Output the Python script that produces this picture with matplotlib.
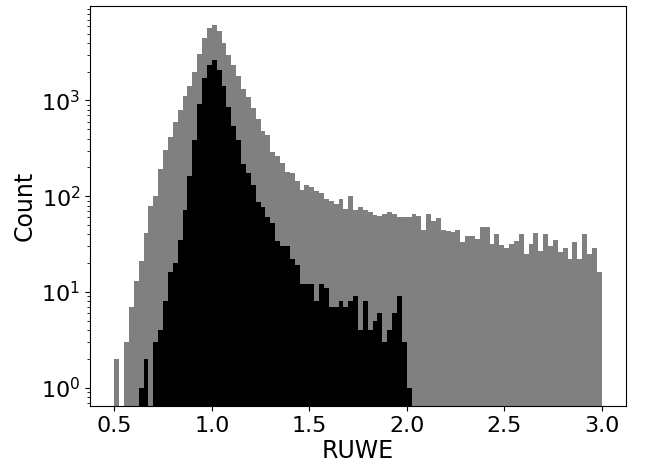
#!/usr/bin/env python

import matplotlib
matplotlib.use("Agg")
import matplotlib.pyplot as plt
import numpy as np

# 100 bins of width 0.025 between RUWE 0.5 and 3.0
bin_edges = np.linspace(0.5, 3.0, 101)

# counts per bin, all sources (grey)
counts_all = [
    2, 0, 3, 7, 13, 21, 41, 80, 100, 193,
    305, 420, 597, 797, 1117, 1422, 1995, 3070, 4510, 5690,
    6160, 5330, 3980, 2990, 2350, 1806, 1313, 1081, 843, 638,
    485, 437, 292, 264, 221, 181, 174, 144, 116, 131,
    126, 114, 107, 94, 89, 83, 94, 74, 100, 72,
    77, 72, 69, 63, 62, 66, 68, 66, 61, 60,
    60, 66, 62, 44, 66, 55, 59, 44, 43, 42,
    44, 33, 38, 38, 36, 48, 48, 32, 40, 31,
    29, 32, 34, 40, 25, 32, 41, 27, 40, 30,
    35, 26, 29, 22, 33, 22, 40, 25, 29, 16,
]

# counts per bin, selected sources (black)
counts_sel = [
    0, 0, 0, 0, 0, 1, 2, 0, 3, 4,
    8, 16, 20, 35, 72, 163, 387, 917, 1722, 2353,
    2655, 2090, 1422, 864, 543, 387, 218, 174, 131, 87,
    78, 61, 53, 34, 30, 30, 22, 19, 12, 12,
    12, 8, 12, 11, 7, 7, 8, 7, 8, 9,
    4, 8, 4, 5, 6, 3, 4, 6, 9, 3,
    1,
]
counts_sel = counts_sel + [0] * (100 - len(counts_sel))

centers = 0.5 * (bin_edges[:-1] + bin_edges[1:])

plt.rc('font', size = 16)
fig = plt.figure(figsize = (6.49, 4.62), dpi = 100)
ax = fig.add_axes((90/649, 56/462, 536/649, 400/462))

ax.hist(centers, bins = bin_edges, weights = counts_all, color = 'grey')
ax.hist(centers, bins = bin_edges, weights = counts_sel, color = 'black')
ax.set_yscale('log')
ax.set_xlim(0.375, 3.125)
ax.set_ylim(0.645, 9700)
ax.set_xticks([0.5, 1.0, 1.5, 2.0, 2.5, 3.0])
ax.set_xlabel('RUWE', fontsize = 17, labelpad = 2)
ax.set_ylabel('Count', fontsize = 17, labelpad = 3)

fig.savefig('out.png', dpi = 100)
